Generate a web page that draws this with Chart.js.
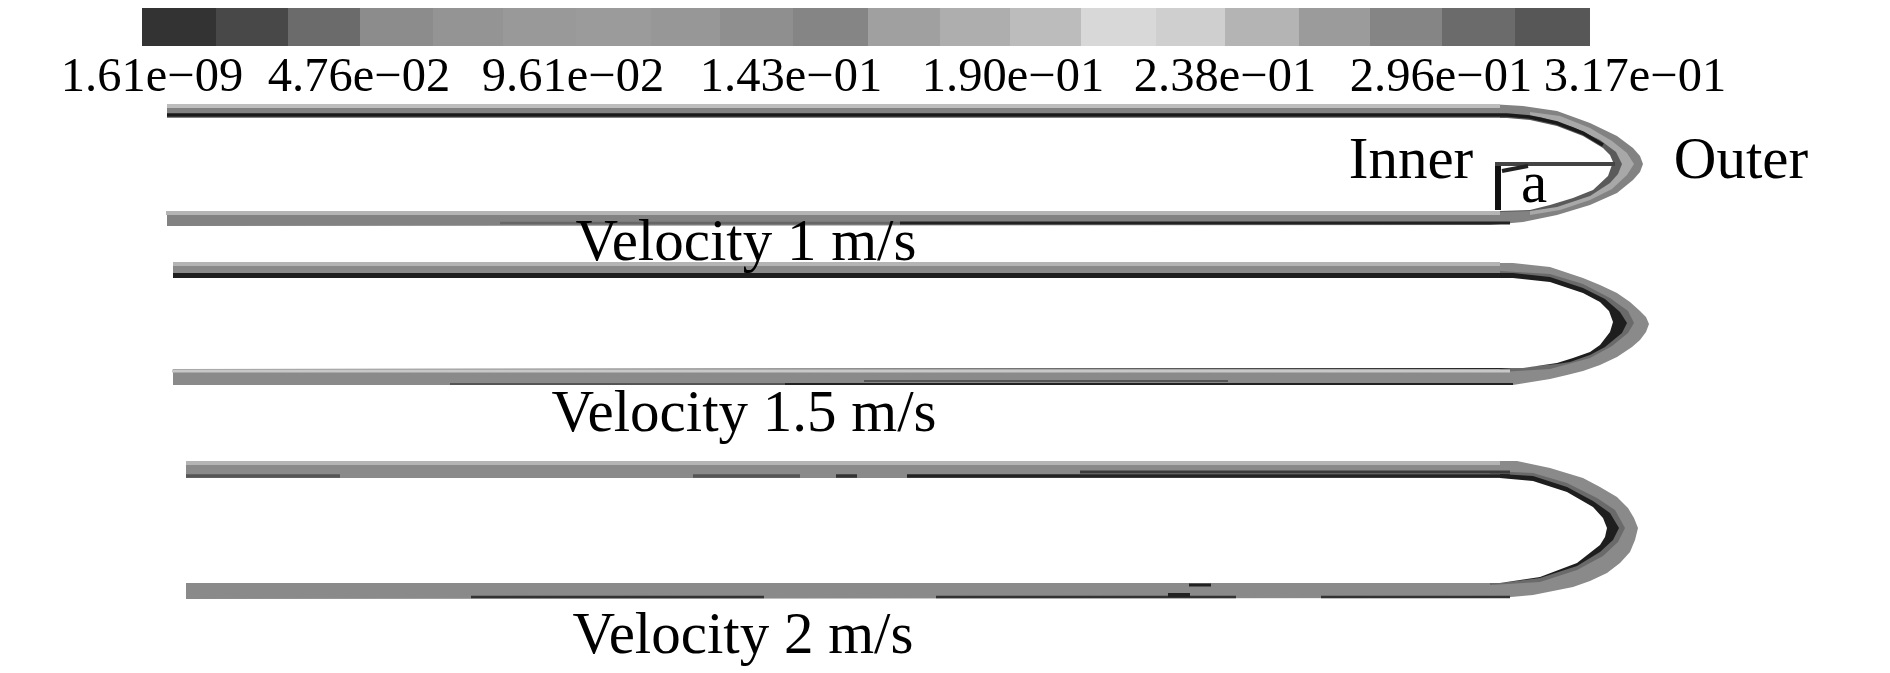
<!DOCTYPE html>
<html>
<head>
<meta charset="utf-8">
<style>
  html, body { margin: 0; padding: 0; background: #fff; }
  canvas { display: block; filter: blur(0.6px); }
</style>
<script src="https://cdn.jsdelivr.net/npm/chart.js@4"></script>
</head>
<body>
<canvas id="contour" width="1890" height="673"></canvas>
<script>
// colour bar
var barEdges = [142, 216, 288, 360, 433, 503, 576, 651, 720, 793, 868, 940, 1010, 1081, 1156, 1225, 1299, 1370, 1442, 1515, 1590];
var barShades = ['#333333', '#484848', '#6b6b6b', '#8c8c8c', '#949494', '#999999', '#9b9b9b', '#979797', '#8f8f8f', '#858585',
                 '#a0a0a0', '#aeaeae', '#bcbcbc', '#d8d8d8', '#cfcfcf', '#b4b4b4', '#9b9b9b', '#858585', '#6b6b6b', '#575757'];
var barTop = 8, barBottom = 46;
var tickLabels = ['1.61e\u221209', '4.76e\u221202', '9.61e\u221202', '1.43e\u221201', '1.90e\u221201', '2.38e\u221201', '2.96e\u221201', '3.17e\u221201'];
var tickX = [152, 359, 573, 791, 1013, 1225, 1441, 1635];
var tickY = 91;

// pipe 1, velocity 1 m/s
var p1OuterTop = [[167,104],[1490,104],[1523,106],[1557,111],[1590,123],[1617,136],[1633,148],[1640,156],[1643,164]];
var p1OuterBottom = [[166,226],[1490,225],[1523,222],[1557,215],[1590,205],[1617,193],[1633,180],[1640,172],[1643,164]];
var p1LightTop = [[1530,112],[1560,116],[1590,128],[1612,141],[1627,153],[1634,164]];
var p1LightBottom = [[1530,215],[1560,210],[1590,200],[1612,189],[1627,175],[1634,164]];
var p1DarkTop = [[1500,114],[1540,117],[1573,127],[1600,140],[1616,152],[1622,164]];
var p1DarkBottom = [[1500,212],[1530,211],[1557,207],[1590,196],[1610,183],[1618,174],[1622,164]];
var p1InnerTop = [[167,118],[1507,118],[1530,120],[1557,126],[1583,136],[1603,148],[1610,155],[1613,162]];
var p1InnerBottom = [[166,211],[1500,211],[1530,210],[1550,205],[1573,198],[1593,190],[1608,176],[1613,162]];
var p1TopStrip = [[167,106],[1500,106]];
var p1TopLine = [[167,115],[1507,115],[1530,117],[1557,123],[1583,133],[1603,145]];
var p1BottomStrip = [[166,213],[1500,213]];
var p1BottomFaint = [[500,223],[900,223]];
var p1BottomLine = [[900,223],[1510,223]];

// pipe 2, velocity 1.5 m/s
var p2OuterTop = [[173,262],[1513,263],[1550,267],[1583,278],[1600,285],[1617,293],[1630,302],[1640,311],[1646,317],[1649,324]];
var p2OuterBottom = [[172,385],[1513,385],[1550,379],[1567,375],[1583,371],[1600,365],[1617,357],[1632,347],[1640,340],[1646,332],[1649,324]];
var p2MidTop = [[1500,271],[1550,274],[1583,284],[1610,298],[1628,311],[1634,323]];
var p2MidBottom = [[1500,372],[1550,369],[1590,358],[1612,346],[1628,333],[1634,323]];
var p2DarkTop = [[173,273],[1513,273],[1550,277],[1583,288],[1605,299],[1620,312],[1627,323]];
var p2DarkBottom = [[173,369],[1500,369],[1557,364],[1570,362],[1590,355],[1605,347],[1622,333],[1627,323]];
var p2InnerTop = [[173,278],[1513,278],[1550,282],[1583,293],[1600,302],[1609,311],[1613,322]];
var p2InnerBottom = [[172,369],[1523,368],[1557,363],[1573,358],[1590,352],[1600,345],[1610,332],[1613,322]];
var p2TopStrip = [[173,264],[1500,264]];
var p2BottomStrip = [[172,371],[1510,371]];
var p2BottomFaint = [[450,384],[785,384]];
var p2BottomLine = [[785,384],[1513,384]];
var p2BottomSpots = [[864,381],[1228,381]];

// pipe 3, velocity 2 m/s
var p3OuterTop = [[186,461],[1517,461],[1550,468],[1583,478],[1600,487],[1617,497],[1628,508],[1634,518],[1638,528]];
var p3OuterBottom = [[184,599],[1500,598],[1533,595],[1573,587],[1590,581],[1607,573],[1620,563],[1630,552],[1635,540],[1638,528]];
var p3MidTop = [[1490,471],[1533,473],[1567,483],[1597,498],[1615,510],[1625,528]];
var p3MidBottom = [[1490,585],[1540,582],[1577,570],[1603,556],[1618,542],[1625,528]];
var p3DarkTop = [[186,474],[1500,474],[1533,476],[1567,487],[1593,501],[1610,513],[1619,528]];
var p3DarkBottom = [[184,583],[1500,583],[1540,578],[1577,566],[1600,552],[1613,540],[1619,528]];
var p3InnerTop = [[186,478],[1500,478],[1533,481],[1567,492],[1593,507],[1603,518],[1607,528]];
var p3InnerBottom = [[184,583],[1500,583],[1540,577],[1577,563],[1600,545],[1605,537],[1607,528]];
var p3TopStrip = [[186,463],[1500,463]];
var p3TopCover = [[186,476],[1500,476]];
var p3TopPieces = [[186,340,'#555555'],[693,800,'#555555'],[836,857,'#333333'],[907,1510,'#222222']];
var p3TopThick = [[1080,472],[1510,472]];
var p3BottomPieces = [[471,764],[936,1236],[1321,1510]];
var p3BlobA = [[1189,585],[1211,585]];
var p3BlobB = [[1168,595],[1190,595]];

// angle mark in pipe 1
var markUp = [[1498,163],[1498,210]];
var markAcross = [[1495,164],[1615,164]];
var markArc = [[1502,171],[1528,166]];

// text on the picture
var noteLabels = ['Inner', 'Outer', 'a', 'Velocity 1 m/s', 'Velocity 1.5 m/s', 'Velocity 2 m/s'];
var noteX = [1411, 1741, 1534, 746, 744, 743];
var noteY = [178, 178, 202, 260, 431, 653];

var datasets = [];

function pts(list) {
  return list.map(function(p) { return { x: p[0], y: p[1] }; });
}

function addShape(top, bottom, colour) {
  datasets.push({ data: pts(top), borderWidth: 0, pointRadius: 0, backgroundColor: colour, fill: { target: datasets.length + 1 } });
  datasets.push({ data: pts(bottom), borderWidth: 0, pointRadius: 0, fill: false });
}

function addLine(list, colour, width) {
  datasets.push({ data: pts(list), borderColor: colour, borderWidth: width, pointRadius: 0, fill: false, borderCapStyle: 'butt' });
}

barShades.forEach(function(shade, i) {
  var a = barEdges[i], b = barEdges[i + 1];
  addShape([[a, barTop], [b, barTop]], [[a, barBottom], [b, barBottom]], shade);
});

addShape(p1OuterTop, p1OuterBottom, '#828282');
addShape(p1LightTop, p1LightBottom, '#a8a8a8');
addShape(p1DarkTop, p1DarkBottom, '#5a5a5a');
addShape(p1InnerTop, p1InnerBottom, '#ffffff');
addLine(p1TopStrip, '#bdbdbd', 4);
addLine(p1BottomStrip, '#b4b4b4', 4);
addLine(p1TopLine, '#1a1a1a', 3.5);
addLine(p1BottomFaint, '#666666', 2.5);
addLine(p1BottomLine, '#222222', 3);

addShape(p2OuterTop, p2OuterBottom, '#8a8a8a');
addShape(p2MidTop, p2MidBottom, '#6a6a6a');
addShape(p2DarkTop, p2DarkBottom, '#1e1e1e');
addShape(p2InnerTop, p2InnerBottom, '#ffffff');
addLine(p2TopStrip, '#b4b4b4', 4);
addLine(p2BottomStrip, '#c8c8c8', 3);
addLine(p2BottomFaint, '#555555', 2);
addLine(p2BottomLine, '#222222', 2);
addLine(p2BottomSpots, '#555555', 2);

addShape(p3OuterTop, p3OuterBottom, '#8a8a8a');
addShape(p3MidTop, p3MidBottom, '#6a6a6a');
addShape(p3DarkTop, p3DarkBottom, '#1e1e1e');
addShape(p3InnerTop, p3InnerBottom, '#ffffff');
addLine(p3TopStrip, '#b4b4b4', 4);
addLine(p3TopCover, '#8a8a8a', 4);
p3TopPieces.forEach(function(piece) {
  addLine([[piece[0], 476], [piece[1], 476]], piece[2], 3.5);
});
addLine(p3TopThick, '#3a3a3a', 3);
p3BottomPieces.forEach(function(piece) {
  addLine([[piece[0], 597], [piece[1], 597]], '#333333', 2.5);
});
addLine(p3BlobA, '#222222', 3);
addLine(p3BlobB, '#222222', 4);

addLine(markUp, '#111111', 6);
addLine(markAcross, '#444444', 4);
addLine(markArc, '#222222', 4);

// first in the list is painted first
datasets.forEach(function(d, i) { d.order = datasets.length - i; });

var textPlugin = {
  id: 'pictureText',
  afterDatasetsDraw: function(chart) {
    var ctx = chart.ctx, sx = chart.scales.x, sy = chart.scales.y;
    ctx.save();
    ctx.fillStyle = '#000000';
    ctx.textAlign = 'center';
    ctx.textBaseline = 'alphabetic';
    ctx.font = '48.5px "Liberation Serif"';
    tickLabels.forEach(function(t, i) {
      ctx.fillText(t, sx.getPixelForValue(tickX[i]), sy.getPixelForValue(tickY));
    });
    ctx.font = '59px "Liberation Serif"';
    noteLabels.forEach(function(t, i) {
      ctx.fillText(t, sx.getPixelForValue(noteX[i]), sy.getPixelForValue(noteY[i]));
    });
    ctx.restore();
  }
};

var lineChart = new Chart(document.getElementById('contour'), {
  type: 'line',
  data: { datasets: datasets },
  plugins: [textPlugin],
  options: {
    responsive: false,
    animation: false,
    layout: { padding: 0 },
    elements: { line: { tension: 0 } },
    plugins: { legend: { display: false }, tooltip: { enabled: false } },
    scales: {
      x: { type: 'linear', min: 0, max: 1890, display: false },
      y: { type: 'linear', min: 0, max: 673, reverse: true, display: false }
    }
  }
});
</script>
</body>
</html>
